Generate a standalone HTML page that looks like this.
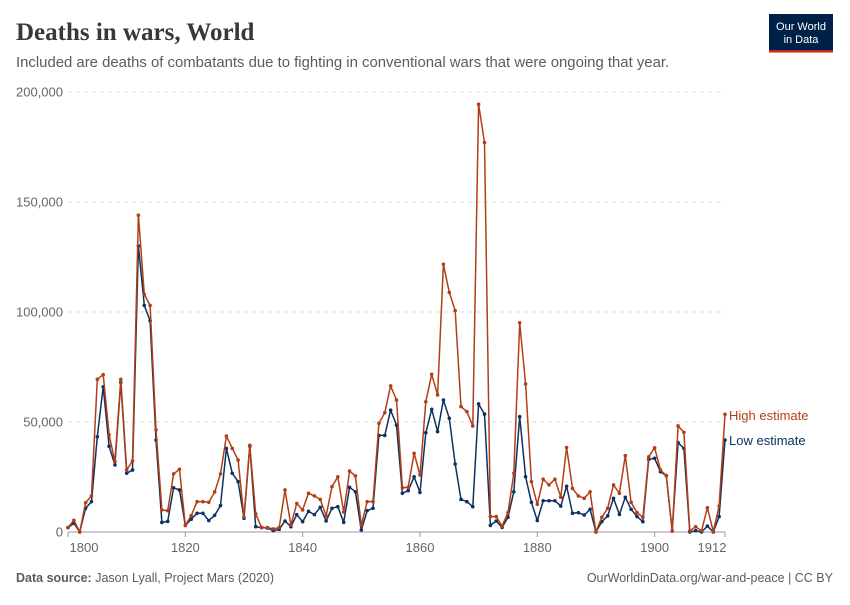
<!DOCTYPE html>
<html><head><meta charset="utf-8"><style>
body{margin:0;background:#fff;width:850px;height:600px;overflow:hidden;font-family:"Liberation Sans",sans-serif}
</style></head><body>
<svg width="850" height="600" xmlns="http://www.w3.org/2000/svg">
<text x="16" y="40" font-family="Liberation Serif,serif" font-size="25" font-weight="bold" fill="#383838">Deaths in wars, World</text>
<text x="16" y="67" font-size="14.9" fill="#5b5b5b">Included are deaths of combatants due to fighting in conventional wars that were ongoing that year.</text>
<g>
<rect x="769" y="14" width="64" height="38" fill="#002147"/>
<rect x="769" y="50" width="64" height="2.5" fill="#ce261e"/>
<text x="801" y="30" font-size="11" fill="#fff" text-anchor="middle">Our World</text>
<text x="801" y="43" font-size="11" fill="#fff" text-anchor="middle">in Data</text>
</g>
<g id="grid"></g><g id="xaxis"></g><g id="series"></g>
<text x="729" y="420" font-size="13" fill="#b33e16">High estimate</text>
<text x="729" y="445" font-size="13" fill="#0d3160">Low estimate</text>
<text x="16" y="582" font-size="12.5" fill="#5b5b5b"><tspan font-weight="bold">Data source:</tspan> Jason Lyall, Project Mars (2020)</text>
<text x="833" y="582" font-size="12.5" fill="#5b5b5b" text-anchor="end">OurWorldinData.org/war-and-peace | CC BY</text>
</svg>
<script>
const startYear = 1800;
const yTicks = [0, 50000, 100000, 150000, 200000];
const xTicks = [1800, 1820, 1840, 1860, 1880, 1900, 1912];
const highEstimate = [2000,5300,0,13300,16400,69400,71500,44200,32000,69400,28200,32300,144000,108000,103000,46400,10000,9700,26400,28500,
3000,7400,13800,13800,13500,18200,26400,43600,38000,32700,6700,39400,8200,2100,2000,1400,2000,19100,3200,13000,
10000,17600,16400,14800,7300,20600,25100,9100,27700,25500,3200,13800,13800,49400,54200,66400,60000,20100,20300,35800,
25900,59200,71700,62300,121700,108900,100600,57000,54700,48200,194400,177000,7000,7000,2700,8800,26700,95100,67300,22900,
12600,24000,21400,24000,15800,38400,19800,16400,15300,18300,0,6700,10800,21400,17600,34700,13500,8800,6700,34200,
38300,28200,25600,500,48200,45300,500,2400,500,11000,200,11800,53500];
const lowEstimate = [2000,4000,0,10800,13800,43300,66000,39000,30500,68000,26700,28200,130000,103000,96000,41800,4400,4800,20100,19100,
3000,5800,8500,8500,5200,7600,12000,38000,26700,22900,6200,39000,2400,2000,1800,600,1200,5000,2400,7900,
4700,9400,7900,11200,5000,10800,11500,4400,20300,18300,900,9700,10800,43900,43900,55400,48600,17600,18800,25100,
18000,45100,55800,45600,60000,51700,30900,14800,13800,11500,58200,53600,3000,5000,2100,6700,18300,52400,25100,13500,
5200,14200,14200,14200,11800,20800,8500,8800,7700,10300,0,4700,7300,15300,8000,15800,10300,7000,4700,33000,
33500,27400,25600,500,40600,38000,0,600,0,2700,0,7000,41800];
const NS='http://www.w3.org/2000/svg';
const X0=68, X1=725, Y0=532, Y1=92;
const xScale = yr => X0 + (yr-1800)*(X1-X0)/112;
const yScale = v => Y0 - v*(Y0-Y1)/200000;
function mk(tag, attrs, parent){const e=document.createElementNS(NS,tag);for(const k in attrs)e.setAttribute(k,attrs[k]);parent.appendChild(e);return e;}
const grid=document.getElementById('grid');
yTicks.forEach(t=>{
  if(t>0){const l=mk('line',{x1:X0,x2:X1,y1:yScale(t),y2:yScale(t),stroke:'#dddddd','stroke-dasharray':'4,4'},grid);
  
  }
  const tx=mk('text',{x:63,y:yScale(t)+4.5,'text-anchor':'end','font-size':'13',fill:'#666'},grid);
  tx.textContent=t.toLocaleString('en-US');
  
  
});
const xa=document.getElementById('xaxis');
const ax=mk('line',{x1:X0,x2:X1,y1:Y0,y2:Y0,stroke:'#999'},xa);


xTicks.forEach(t=>{
  const tk=mk('line',{x1:xScale(t),x2:xScale(t),y1:Y0,y2:Y0+5,stroke:'#999'},xa);
  
  
  let lx=xScale(t); if(t===1800) lx+=16; if(t===1912) lx-=13;
  const tx=mk('text',{x:lx,y:Y0+20,'text-anchor':'middle','font-size':'13',fill:'#666'},xa);
  tx.textContent=t;
  
  
});
const sg=document.getElementById('series');
[[lowEstimate,'#0d3160','low-estimate'],[highEstimate,'#b33e16','high-estimate']].forEach(([arr,c,n])=>{
  const pts=arr.map((v,i)=>xScale(startYear+i).toFixed(1)+','+yScale(v).toFixed(1)).join(' ');
  const pl=mk('polyline',{points:pts,fill:'none',stroke:c,'stroke-width':'1.5','stroke-linejoin':'round'},sg);
  
  
  arr.forEach((v,i)=>{
    const d=mk('circle',{cx:xScale(startYear+i),cy:yScale(v),r:1.8,fill:c},sg);
    
    
  });
});
</script>
</body></html>
